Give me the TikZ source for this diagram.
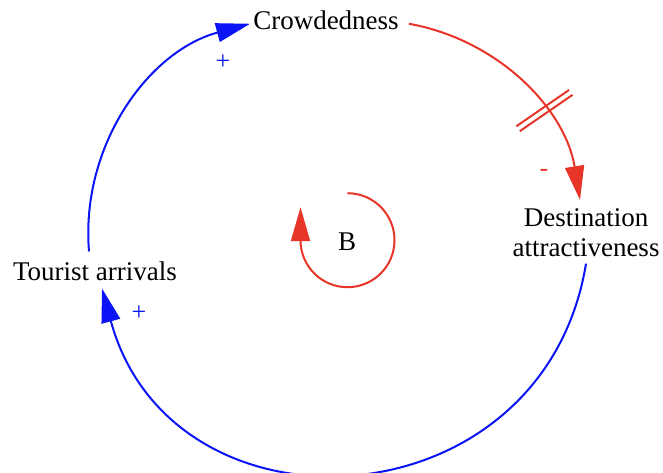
\documentclass[tikz,border=0pt]{standalone}
\usepackage{fontspec}
\setmainfont{Liberation Serif}
\usetikzlibrary{arrows.meta,decorations.markings}
\definecolor{cldblue}{RGB}{10,20,245}
\definecolor{cldred}{RGB}{232,53,42}
\begin{document}
\begin{tikzpicture}[x=1pt,y=1pt,
  lbl/.style={font=\fontsize{27}{29.5}\selectfont, inner sep=0pt, text=black},
  pol/.style={font=\fontsize{26}{28}\selectfont, inner sep=0pt},
  link/.style={line width=2pt, -{Triangle[length=34pt,width=19pt]}},
  delaymark/.style={postaction={decorate}, decoration={markings,
     mark=at position #1 with {\draw[-, line width=2pt] (-3,-32)--(-3,32) (3,-32)--(3,32);}}}
]
\useasboundingbox (0,0) rectangle (663,472);
% variables
\node[lbl, anchor=base] (cr) at (326,442) {Crowdedness};
\node[lbl, anchor=north, align=center] (da) at (586,263.4) {Destination\\attractiveness};
\node[lbl, anchor=base] (ta) at (95,192) {Tourist arrivals};
\node[lbl, anchor=base] (b) at (347,222) {B};
% links
\draw[link, cldblue] ([xshift=-6pt,yshift=9.6pt]ta.north)
  .. controls +(94.7:105.7) and +(195.1:105.7) .. ([xshift=-3pt,yshift=-3pt]cr.west);
\draw[link, cldred, delaymark=0.63] ([xshift=10pt,yshift=-3pt]cr.east)
  .. controls +(-10.2:91.6) and +(99.2:91.6) .. ([xshift=-6pt,yshift=8.6pt]da.north);
\draw[link, cldblue] ([yshift=-7pt]da.south)
  .. controls +(-99.3:266.8) and +(-74.8:266.8) .. ([xshift=7pt,yshift=-8pt]ta.south);
% loop marker
\draw[link, cldred] ([xshift=0.5pt,yshift=48pt]b.center)
  arc[start angle=90, end angle=-180, radius=47] -- ++(0,33);
% polarities
\node[pol, text=cldblue] (p1) at (223,410) {+};
\node[pol, text=cldblue] (p2) at (139,159) {+};
\node[pol, text=cldred] (p3) at (544,299) {-};
\end{tikzpicture}
\end{document}
